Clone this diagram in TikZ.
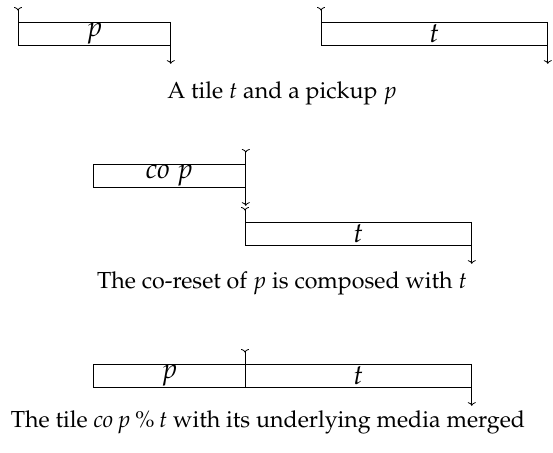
\documentclass[tikz,border=0pt]{standalone}
\usepackage[T1]{fontenc}
\usepackage{mathpazo}
\usetikzlibrary{arrows.meta}
\tikzset{
  tile/.style={draw, rectangle, minimum height=11.5pt, inner sep=0pt, anchor=north west,
    font=\fontsize{14}{16}\selectfont},
  caption/.style={anchor=base, font=\fontsize{11.6}{14}\selectfont}
}
\begin{document}
\begin{tikzpicture}[x=0.5pt,y=-0.5pt,>={To[width=4pt,length=1.8pt]}]
\useasboundingbox (0,0) rectangle (553,453);
% a pickup p and a tile t
\node[tile, minimum width=76pt] (p1) at (18,22) {$p$};
\node[tile, minimum width=113pt] (t1) at (321,22) {$t$};
\coordinate (p1in) at ([yshift=7.5pt]p1.north west);
\coordinate (p1out) at ([yshift=-9pt]p1.south east);
\coordinate (t1in) at ([yshift=7.5pt]t1.north west);
\coordinate (t1out) at ([yshift=-9pt]t1.south east);
\draw[>-] (p1in) -- (p1.south west);
\draw[->] (p1.north east) -- (p1out);
\draw[>-] (t1in) -- (t1.south west);
\draw[->] (t1.north east) -- (t1out);
\node[caption] (cap1) at (282,99) {A tile $t$ and a pickup $p$};

% co-reset of p, then t
\node[tile, minimum width=76pt] (cop) at (93,164) {$\mathit{co}\ p$};
\node[tile, minimum width=113pt] (t2) at (245,222) {$t$};
\coordinate (copin) at ([yshift=7.5pt]cop.north east);
\coordinate (copout) at ([yshift=-9pt]cop.south east);
\coordinate (t2in) at ([yshift=7.5pt]t2.north west);
\coordinate (t2out) at ([yshift=-9pt]t2.south east);
\draw[>->] (copin) -- (copout);
\draw[>-] (t2in) -- (t2.south west);
\draw[->] (t2.north east) -- (t2out);
\node[caption] (cap2) at (282,289) {The co-reset of $p$ is composed with $t$};

% merged media
\node[tile, minimum width=76pt] (p3) at (93,364) {$p$};
\node[tile, minimum width=113pt] (t3) at (245,364) {$t$};
\coordinate (t3in) at ([yshift=7.5pt]t3.north west);
\coordinate (t3out) at ([yshift=-9pt]t3.south east);
\draw[>-] (t3in) -- (t3.south west);
\draw[->] (t3.north east) -- (t3out);
\node[caption] (cap3) at (268,428) {The tile $\mathit{co}\,p \mathbin{\%} t$ with its underlying media merged};
\end{tikzpicture}
\end{document}
